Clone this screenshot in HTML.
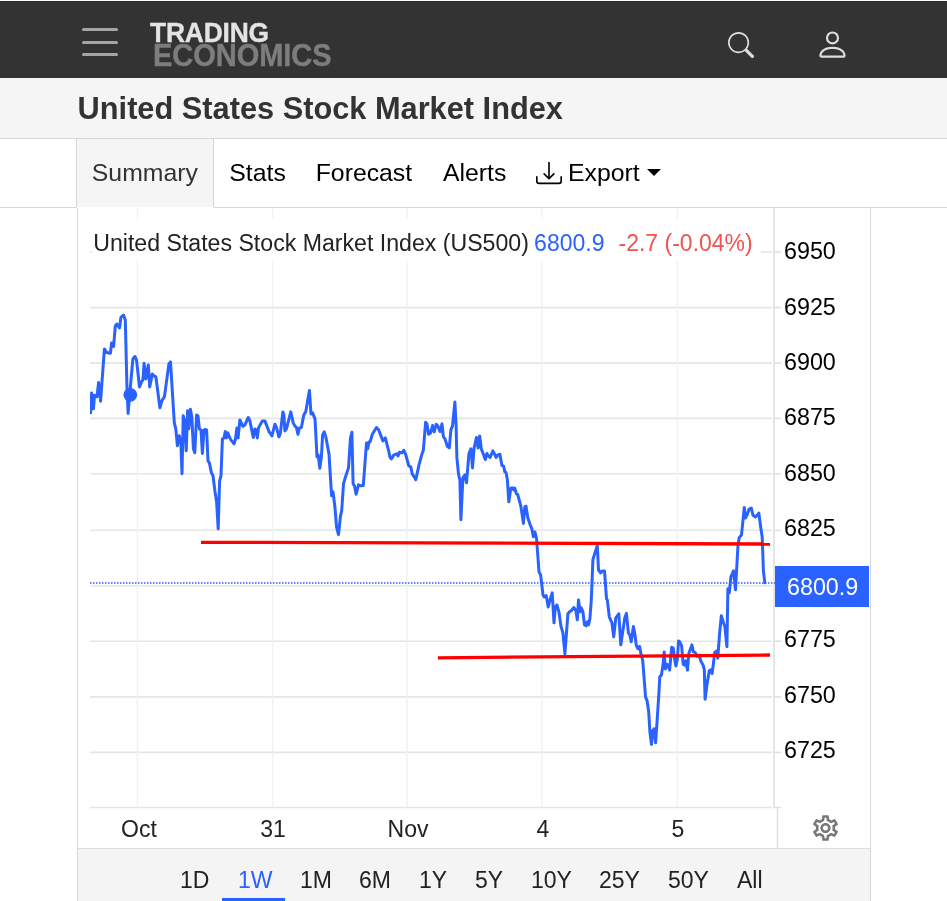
<!DOCTYPE html>
<html lang="en">
<head>
<meta charset="utf-8">
<title>United States Stock Market Index</title>
<style>
html,body{margin:0;padding:0;background:#fff;}
body{width:947px;height:901px;position:relative;overflow:hidden;font-family:"Liberation Sans",sans-serif;color:#000;}
.abs{position:absolute;white-space:nowrap;}
#hdr{left:0;top:1px;width:947px;height:76px;background:#333;border-top:1px solid #2c2c2c;}
.hb{left:81.6px;width:36.7px;height:3px;background:#a4a4a4;border-radius:1.5px;}
#logo1{left:150px;top:17.6px;font-size:26.4px;line-height:30px;font-weight:bold;color:#e4e4e4;letter-spacing:-0.2px;transform:scaleY(1.045);transform-origin:0 24.2px;-webkit-text-stroke:0.35px #e4e4e4;}
#logo2{left:153px;top:39.3px;font-size:29.1px;line-height:32px;font-weight:bold;color:#7d7d7d;letter-spacing:-0.1px;transform:scaleY(1.078);transform-origin:0 11.1px;-webkit-text-stroke:0.35px #7d7d7d;}
#tbar{left:0;top:78px;width:947px;height:60px;background:#f5f5f5;border-bottom:1px solid #d6d6d6;}
#title{left:77.6px;top:90.5px;font-size:30.75px;line-height:36px;font-weight:bold;color:#333;}
#tabline{left:0;top:207px;width:947px;height:1px;background:#d6d6d6;}
#tabact{left:76px;top:139px;width:136px;height:68px;border-bottom:1px solid #fff;background:#f5f5f5;border-left:1px solid #d6d6d6;border-right:1px solid #d6d6d6;}
.tab{top:158px;font-size:24.8px;line-height:30px;color:#000;}
#cbox{left:77px;top:208px;width:792px;height:693px;border-left:1px solid #d6d6d6;border-right:1px solid #d6d6d6;}
#rbar{left:78px;top:848px;width:792px;height:52px;background:#f4f4f4;border-top:1px solid #dedede;}
.rng{top:866px;font-size:23px;line-height:28px;color:#222;}
.tl{top:815px;font-size:23px;line-height:28px;color:#222;transform:translateX(-50%);}
svg{position:absolute;left:0;top:0;}
svg text{font-family:"Liberation Sans",sans-serif;}
</style>
</head>
<body>
<div id="hdr" class="abs"></div>
<div class="abs hb" style="top:28.1px"></div>
<div class="abs hb" style="top:40.5px"></div>
<div class="abs hb" style="top:52.9px"></div>
<div id="logo1" class="abs">TRADING</div>
<div id="logo2" class="abs">ECONOMICS</div>
<svg class="abs" style="left:728px;top:32px" width="26" height="26" viewBox="0 0 16 16" fill="#ddd"><path d="M11.742 10.344a6.500 6.500 0 1 0-1.397 1.398h-.001c.03.04.062.078.098.115l3.850 3.850a1 1 0 0 0 1.415-1.414l-3.850-3.850a1.007 1.007 0 0 0-.115-.100zM12 6.500a5.500 5.500 0 1 1-11 0 5.500 5.500 0 0 1 11 0z"/></svg>
<svg class="abs" style="left:815px;top:27.4px" width="35" height="35" viewBox="0 0 16 16" fill="#ddd"><path d="M8 8a3 3 0 1 0 0-6 3 3 0 0 0 0 6zm2-3a2 2 0 1 1-4 0 2 2 0 0 1 4 0zm4 8c0 1-1 1-1 1H3s-1 0-1-1 1-4 6-4 6 3 6 4zm-1-.004c-.001-.246-.154-.986-.832-1.664C11.516 10.680 10.289 10 8 10c-2.290 0-3.516.680-4.168 1.332-.678.678-.830 1.418-.832 1.664h10z"/></svg>

<div id="tbar" class="abs"></div>
<div id="title" class="abs">United States Stock Market Index</div>

<div id="tabline" class="abs"></div>
<div id="tabact" class="abs"></div>
<div class="abs tab" style="left:91.8px;color:#333">Summary</div>
<div class="abs tab" style="left:229.3px">Stats</div>
<div class="abs tab" style="left:315.7px">Forecast</div>
<div class="abs tab" style="left:443px">Alerts</div>
<svg class="abs" style="left:536px;top:160px" width="26" height="26" viewBox="0 0 16 16" fill="#000"><path d="M.5 9.900a.5.5 0 0 1 .5.5v2.500a1 1 0 0 0 1 1h12a1 1 0 0 0 1-1v-2.500a.5.5 0 0 1 1 0v2.500a2 2 0 0 1-2 2H2a2 2 0 0 1-2-2v-2.500a.5.5 0 0 1 .5-.5z"/><path d="M7.646 11.854a.5.5 0 0 0 .708 0l3-3a.5.5 0 0 0-.708-.708L8.500 10.293V1.500a.5.5 0 0 0-1 0v8.793L5.354 8.146a.5.5 0 1 0-.708.708l3 3z"/></svg>
<div class="abs tab" style="left:568px">Export</div>
<div class="abs" style="left:646.7px;top:168.8px;width:0;height:0;border-left:7px solid transparent;border-right:7px solid transparent;border-top:7.2px solid #000;"></div>

<div id="cbox" class="abs"></div>
<div id="rbar" class="abs"></div>

<!--CHART_START-->
<svg class="abs" width="947" height="901" viewBox="0 0 947 901">
<g stroke="#e5e5e5" stroke-width="1.6"><line x1="90" y1="252.0" x2="772" y2="252.0"/><line x1="90" y1="307.6" x2="772" y2="307.6"/><line x1="90" y1="363.1" x2="772" y2="363.1"/><line x1="90" y1="418.4" x2="772" y2="418.4"/><line x1="90" y1="473.8" x2="772" y2="473.8"/><line x1="90" y1="530.3" x2="772" y2="530.3"/><line x1="90" y1="585.7" x2="772" y2="585.7"/><line x1="90" y1="641.2" x2="772" y2="641.2"/><line x1="90" y1="696.9" x2="772" y2="696.9"/><line x1="90" y1="752.4" x2="772" y2="752.4"/><line x1="90" y1="807.5" x2="772" y2="807.5"/></g>
<g stroke="#edf2f6" stroke-width="1.4"><line x1="137.4" y1="208" x2="137.4" y2="807"/><line x1="272.6" y1="208" x2="272.6" y2="807"/><line x1="406.9" y1="208" x2="406.9" y2="807"/><line x1="542" y1="208" x2="542" y2="807"/><line x1="677.3" y1="208" x2="677.3" y2="807"/></g>
<g stroke="#dedede" stroke-width="1.5"><line x1="774" y1="208" x2="774" y2="808"/><line x1="774" y1="252.0" x2="781" y2="252.0"/><line x1="774" y1="307.6" x2="781" y2="307.6"/><line x1="774" y1="363.1" x2="781" y2="363.1"/><line x1="774" y1="418.4" x2="781" y2="418.4"/><line x1="774" y1="473.8" x2="781" y2="473.8"/><line x1="774" y1="530.3" x2="781" y2="530.3"/><line x1="774" y1="585.7" x2="781" y2="585.7"/><line x1="774" y1="641.2" x2="781" y2="641.2"/><line x1="774" y1="696.9" x2="781" y2="696.9"/><line x1="774" y1="752.4" x2="781" y2="752.4"/><line x1="774" y1="807.5" x2="781" y2="807.5"/><line x1="777.5" y1="808" x2="777.5" y2="849"/></g>
<rect x="92" y="218.6" width="669" height="42.4" fill="#fff" fill-opacity="0.94"/>
<line x1="90" y1="583" x2="775" y2="583" stroke="#2962ff" stroke-width="1.3" stroke-dasharray="1.5 1.5"/>
<clipPath id="pc"><rect x="90" y="208" width="684" height="600"/></clipPath>
<path clip-path="url(#pc)" d="M90.6 412.8 L91.6 392.9 L93.4 408.8 L94.6 395.2 L97 396.8 L98.6 382.5 L100.6 401.2 L104.4 348.9 L106.6 352.5 L110.4 353.3 L111.6 342.9 L113.6 346.5 L115.3 326 L116.9 324 L119.5 328 L120.9 317.4 L123.5 315 L125.3 320 L126.9 384.9 L128.1 413.4 L129.3 398.8 L132.9 358.9 L134.9 356.5 L136.5 359.9 L139.5 386.9 L141.5 381.9 L142.9 379.9 L144.1 363.3 L145.9 378.9 L148.3 364.9 L149.7 386.9 L152.3 373.9 L153.9 375.9 L155.9 376.9 L159.9 407.8 L161.9 400.8 L164.5 396.4 L168.9 363.9 L170.5 361.9 L174.3 422.8 L175.8 428.8 L177.4 445.8 L179.2 435.8 L180.8 440.8 L182 473.7 L183.2 415.8 L184.4 419.8 L186.2 450.8 L187.6 410.8 L188.8 428.8 L190.4 409.2 L191.8 416.8 L193.4 448.8 L194.8 452.8 L196.6 414.9 L198 415.9 L199.4 428.9 L201 429.9 L202.4 453.5 L204 429.9 L205.4 429.5 L206.6 429.9 L208 460.9 L209.4 462.9 L211.4 472.8 L213 475.8 L215 491.8 L216.6 501.8 L218.2 528.8 L219.6 480.8 L221 475.8 L222.4 438.9 L224 437.9 L225.3 431.5 L226.5 437.9 L227.9 432.9 L229.3 436.9 L230.9 439.9 L234.1 443.9 L235.5 438.9 L236.9 427.9 L238.1 437.9 L239.9 419.9 L241.3 422.9 L242.9 426.3 L244.9 424.9 L248.3 417.5 L249.9 420.9 L253.3 437.5 L254.9 428.9 L256.1 429.9 L257.3 437.9 L258.5 427.9 L262.3 420.9 L264.9 420.9 L269.3 432.3 L270.5 433.5 L271.9 435.9 L274.9 424.3 L276.3 426.9 L278.9 436.9 L280.3 433.5 L282.9 411.9 L283.9 414.9 L284.9 430.9 L286.4 428.9 L290.8 411.9 L293.2 422.9 L294.8 425.9 L296.4 427.5 L298 434.3 L299.4 427.9 L301.4 427.5 L303.8 414.9 L305.8 411.5 L309.4 390.4 L311 413.9 L312.6 412.9 L315 418.9 L317 456.9 L318.2 454.9 L319.8 468.3 L321.4 456.9 L322.6 434.9 L324.2 431.9 L325.8 436.9 L329 453.9 L331.6 495.8 L333 491.8 L335 507.8 L336.5 526.8 L338.5 534.7 L340.5 515.8 L341.7 510.8 L343.5 483.8 L344.9 478.8 L348.5 467.9 L350.5 437.9 L351.9 432.3 L353.1 483.8 L354.5 485.8 L356.1 494.2 L358.5 484.8 L360.9 485.8 L363.3 485.4 L366.5 442.9 L367.7 448.9 L368.9 441.9 L370.1 441.9 L372.3 434.3 L376.5 427.5 L378.5 429.5 L382.9 440.9 L385.3 437.9 L388.9 451.9 L389.9 456.9 L391.3 458.9 L393.9 454.9 L396.8 453.9 L398 455.9 L399.4 452.3 L401.8 452.9 L403.8 450.3 L405.8 454.9 L408.8 465.9 L410.8 466.9 L412.2 473.8 L414.2 476.8 L415.8 479.8 L419 464.9 L422 453.9 L423.4 449.9 L425.6 422.3 L427 423.9 L428.6 434.3 L430.6 432.9 L432.6 425.5 L434.2 431.9 L436.2 424.3 L438 426.3 L440 431.5 L442 423.9 L443.4 436.9 L445 438.9 L447.3 446.3 L449.3 447.9 L450.9 429.9 L452.5 425.9 L454.9 402 L456.1 425.9 L456.9 457.9 L458.5 473.9 L459.9 479.9 L460.9 519.8 L462.9 477.9 L464.9 474.9 L466.5 482.8 L468.9 453.9 L470.9 448.9 L472.5 467.9 L474.1 447.9 L476.5 437.5 L478.1 447.9 L479.7 435.9 L481.3 448.9 L482.9 452.9 L485.3 459.5 L486.9 453.5 L488.5 455.9 L490.1 457.5 L492.9 450.9 L494.5 453.9 L496.1 457.5 L497.9 454.9 L499.9 454.3 L501.9 465.5 L503.5 465.9 L504.9 471.9 L506 472.3 L507.4 479.9 L508.8 501.8 L510.8 488.2 L512.4 487.8 L513.8 489.8 L514.8 488.2 L516.4 493.8 L517.8 494.8 L520.8 505.8 L523.4 523.4 L524.8 506.8 L526 506.2 L527.8 517.8 L529.8 523.8 L531.8 528.8 L533.4 536.8 L535 532 L536.6 539 L539 571.9 L540.6 574.9 L543 594.9 L544.2 596.9 L546.2 595.5 L548.2 606.9 L550 599.9 L552.2 592.9 L554 622.8 L555.3 606.9 L556.9 604.9 L558.9 611.8 L560.9 625.8 L562.9 632.8 L564.9 653.8 L567.9 613.8 L569.9 611.4 L571.3 610.8 L573.9 607.5 L575.9 610.8 L577.3 619.8 L578.5 599.9 L580.1 611.8 L581.3 607.9 L582.9 611.8 L584.5 624.8 L586.1 625.8 L587.3 621.8 L588.5 624.8 L589.9 618.8 L591.3 599.9 L592.9 559.9 L594.9 552.9 L597.3 545.6 L598.5 569.9 L600.5 572.9 L602.5 570.9 L604.5 570.9 L606.5 598.9 L607.3 599.9 L609.3 616.8 L611.9 622.8 L613.7 636.8 L615.8 617.8 L618.8 613.8 L620.8 644.8 L624.8 617.8 L626.4 613.4 L628.4 632.8 L629.8 634.8 L631.2 641.8 L633.4 626.5 L634.7 633.2 L636.2 644.9 L637.8 648.8 L639.6 646.4 L640.9 653.4 L642.7 660.4 L644.8 686.8 L645.5 696.9 L647.1 700.8 L648.7 711.7 L649.9 731.9 L651.5 744.4 L652.5 731.1 L654.1 728.8 L655.6 742.8 L657.2 719.5 L658.8 694.6 L659.8 676.7 L661.4 675.2 L663 665.1 L664.2 651.9 L665.4 669 L667 664.3 L668.1 665.1 L669.6 670.1 L670.7 658.1 L671.7 647.2 L673.2 648 L674.8 660.4 L675.9 665.9 L677.4 658.9 L678.5 641 L679.7 641.8 L681.6 645.6 L683.2 664.3 L684.4 665.1 L685.6 660.7 L687.5 670.1 L688.8 653.4 L691.9 644.9 L693.4 651.9 L695.3 652.6 L697.2 656.5 L699.2 655 L700.7 660.7 L703.1 665.1 L704.3 669.7 L705.1 699.3 L706.9 685.3 L709.3 670.5 L710.8 669.7 L712.1 673.6 L713.6 662 L714.7 652.6 L716.3 651.1 L717.8 658.1 L719.5 634.7 L721.3 615.8 L723.5 622.7 L724.9 626.7 L726.9 646.7 L727.9 588.8 L729.3 592.8 L730.9 576.8 L733.5 570.8 L735.5 589.8 L737.9 546.9 L739.1 537.9 L741.5 534.9 L744.3 507.4 L745.5 518 L747.5 514 L748.9 509.4 L751.3 508 L752.9 515 L755.4 517 L757.4 515 L758.8 513 L760.8 527.9 L762.2 536.9 L763.4 570.8 L764.8 582.8" fill="none" stroke="#2962ff" stroke-width="3" stroke-linejoin="round" stroke-linecap="round"/>
<circle cx="130.3" cy="394.8" r="6.9" fill="#2962ff"/>
<line x1="201" y1="542.3" x2="770" y2="544" stroke="#ff0000" stroke-width="3.3"/>
<line x1="438" y1="657.8" x2="770" y2="655" stroke="#ff0000" stroke-width="3.3"/>
<g font-size="23.3" fill="#000"><text x="784" y="259.1">6950</text><text x="784" y="314.5">6925</text><text x="784" y="369.9">6900</text><text x="784" y="425.4">6875</text><text x="784" y="480.8">6850</text><text x="784" y="536.2">6825</text><text x="784" y="647.0">6775</text><text x="784" y="702.5">6750</text><text x="784" y="757.9">6725</text></g>
<rect x="775" y="566" width="94" height="41" fill="#2962ff"/>
<text x="787" y="594.6" font-size="23.3" fill="#fff">6800.9</text>
<text x="93.2" y="250.9" font-size="23.14" fill="#222">United States Stock Market Index (US500)</text>
<text x="534.1" y="250.9" font-size="23" fill="#2962ff">6800.9</text>
<text x="618.5" y="250.9" font-size="23" fill="#ef5350">-2.7 (-0.04%)</text>
<svg x="810.15" y="812.65" width="30.7" height="30.7" viewBox="0 0 24 24"><path fill="#787878" d="M19.43 12.98c.04-.32.07-.64.07-.98 0-.34-.03-.66-.07-.98l2.11-1.65c.19-.15.24-.42.12-.64l-2-3.46c-.09-.16-.26-.25-.44-.25-.06 0-.12.01-.17.03l-2.49 1c-.52-.4-1.08-.73-1.69-.98l-.38-2.65C14.46 2.18 14.25 2 14 2h-4c-.25 0-.46.18-.49.42l-.38 2.65c-.61.25-1.17.59-1.69.98l-2.49-1c-.06-.02-.12-.03-.18-.03-.17 0-.34.09-.43.25l-2 3.46c-.13.22-.07.49.12.64l2.11 1.65c-.04.32-.07.65-.07.98 0 .33.03.66.07.98l-2.11 1.65c-.19.15-.24.42-.12.64l2 3.46c.09.16.26.25.44.25.06 0 .12-.01.17-.03l2.49-1c.52.4 1.08.73 1.69.98l.38 2.65c.03.24.24.42.49.42h4c.25 0 .46-.18.49-.42l.38-2.65c.61-.25 1.17-.59 1.69-.98l2.49 1c.06.02.12.03.18.03.17 0 .34-.09.43-.25l2-3.46c.12-.22.07-.49-.12-.64l-2.11-1.65zm-1.98-1.71c.04.31.05.52.05.73 0 .21-.02.43-.05.73l-.14 1.13.89.7 1.08.84-.7 1.21-1.27-.51-1.04-.42-.9.68c-.43.32-.84.56-1.25.73l-1.06.43-.16 1.13-.2 1.35h-1.4l-.19-1.35-.16-1.13-1.06-.43c-.43-.18-.83-.41-1.23-.71l-.91-.7-1.06.43-1.27.51-.7-1.21 1.08-.84.89-.7-.14-1.13c-.03-.31-.05-.54-.05-.74s.02-.43.05-.73l.14-1.13-.89-.7-1.08-.84.7-1.21 1.27.51 1.04.42.9-.68c.43-.32.84-.56 1.25-.73l1.06-.43.16-1.13.2-1.35h1.39l.19 1.35.16 1.13 1.06.43c.43.18.83.41 1.23.71l.91.7 1.06-.43 1.27-.51.7 1.21-1.07.85-.89.7.14 1.13zM12 8c-2.21 0-4 1.79-4 4s1.790 4 4 4 4-1.790 4-4-1.790-4-4-4zm0 6c-1.1 0-2-.9-2-2s.9-2 2-2 2 .9 2 2-.9 2-2 2z"/></svg>
</svg>
<!--CHART_END-->

<div class="abs tl" style="left:139px">Oct</div>
<div class="abs tl" style="left:273px">31</div>
<div class="abs tl" style="left:408px">Nov</div>
<div class="abs tl" style="left:543px">4</div>
<div class="abs tl" style="left:678px">5</div>

<div class="abs rng" style="left:180px">1D</div>
<div class="abs rng" style="left:238px;color:#2962ff">1W</div>
<div class="abs" style="left:222px;top:898px;width:63px;height:3px;background:#2962ff"></div>
<div class="abs rng" style="left:300px">1M</div>
<div class="abs rng" style="left:359px">6M</div>
<div class="abs rng" style="left:419px">1Y</div>
<div class="abs rng" style="left:475px">5Y</div>
<div class="abs rng" style="left:531px">10Y</div>
<div class="abs rng" style="left:599px">25Y</div>
<div class="abs rng" style="left:668px">50Y</div>
<div class="abs rng" style="left:737px">All</div>
</body>
</html>
